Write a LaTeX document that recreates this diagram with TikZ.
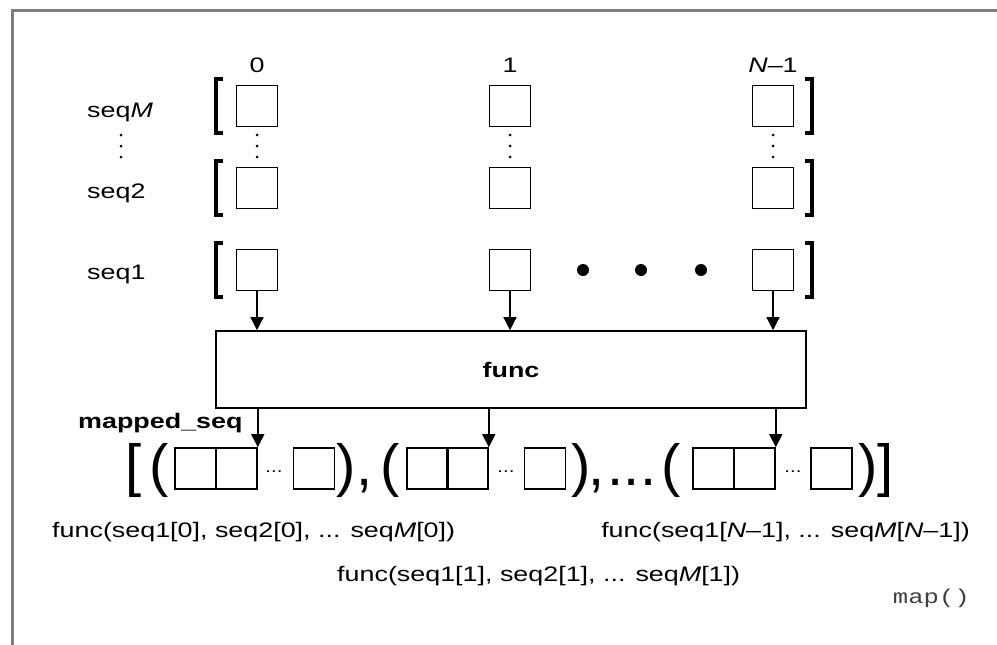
\documentclass[tikz,border=0pt]{standalone}
\usepackage{fontspec}
\setmainfont[FakeStretch=1.28]{Liberation Sans}
\setmonofont[FakeStretch=1.28]{Liberation Mono}
\newfontfamily\delimfont{Liberation Sans}
\usepackage{tikz}
\usetikzlibrary{positioning, arrows.meta}

\definecolor{framegray}{RGB}{125,125,125}

\begin{document}
\begin{tikzpicture}[
    x = 1pt, y = -1pt,
    cell/.style = {rectangle, draw, line width=1.6pt, minimum width=41pt, minimum height=41pt, inner sep=0pt},
    lbl/.style = {font=\fontsize{21}{25}\selectfont, inner sep=0pt},
    lblb/.style = {font=\fontsize{21}{25}\selectfont\bfseries, inner sep=0pt},
    delim/.style = {font=\delimfont\fontsize{58}{60}\selectfont, inner sep=0pt, anchor=base},
    brk/.style = {line width=3.5pt},
    feed/.style = {line width=1.4pt, -{Triangle[width=13pt,length=13pt]}}
]
\useasboundingbox (0,0) rectangle (997,645);
\draw[framegray, line width=3pt] (12,645) -- (12,10) -- (997,10);

% Index labels
    \node[lbl, anchor=base] (idx0) at (257,72) {0};
    \node[lbl, anchor=base] (idx1) at (510,72) {1};
    \node[lbl, anchor=base] (idxN) at (773,72) {\textit{N}--1};

% Input sequences
    \node[lbl, anchor=base west] (nameM) at (87,117) {seq\textit{M}};
    \node[lbl, anchor=base west] (name2) at (87,198) {seq2};
    \node[lbl, anchor=base west] (name1) at (87,279) {seq1};

    \node[cell] (sM0) at (257,106) {};
    \node[cell] (sM1) at (510,106) {};
    \node[cell] (sMN) at (773,106) {};
    \node[cell] (s20) at (257,188) {};
    \node[cell] (s21) at (510,188) {};
    \node[cell] (s2N) at (773,188) {};
    \node[cell] (s10) at (257,270) {};
    \node[cell] (s11) at (510,270) {};
    \node[cell] (s1N) at (773,270) {};

    \foreach \r in {106,188,270} {
        \draw[brk] (223,\r-27) -- (216,\r-27) -- (216,\r+27) -- (223,\r+27);
        \draw[brk] (805,\r-27) -- (812,\r-27) -- (812,\r+27) -- (805,\r+27);
    }
    \foreach \x in {121,257,510,773}
        \foreach \y in {135,146,157}
            \fill (\x,\y) circle[radius=1.5pt];
    \foreach \x in {583,641,701}
        \fill (\x,270) circle[radius=6pt];

% Function
    \node[draw, line width=1.6pt, minimum width=590pt, minimum height=77pt, lblb] (func) at (511,369.5) {func};

% Result
    \node[lblb, anchor=base west] (mapped) at (78,428) {mapped\_seq};

    \node[cell] (a0) at (195.5,468.5) {};
    \node[cell] (b0) at (236.5,468.5) {};
    \node[cell] (z0) at (314,468.5) {};
    \node[cell] (a1) at (427.5,468.5) {};
    \node[cell] (b1) at (467.5,468.5) {};
    \node[cell] (z1) at (545,468.5) {};
    \node[cell] (a2) at (713.5,468.5) {};
    \node[cell] (b2) at (754.5,468.5) {};
    \node[cell] (z2) at (831.5,468.5) {};

    \node[font=\fontsize{16}{18}\selectfont, inner sep=0pt, anchor=base] (gap0) at (274,472) {...};
    \node[font=\fontsize{16}{18}\selectfont, inner sep=0pt, anchor=base] (gap1) at (506,472) {...};
    \node[font=\fontsize{16}{18}\selectfont, inner sep=0pt, anchor=base] (gap2) at (793,472) {...};

    \node[delim] (lbrk) at (134,485) {[};
    \node[delim] (lpar0) at (159,485) {(};
    \node[delim] (rpar0) at (346,485) {)};
    \node[delim] (comma0) at (365,485) {,};
    \node[delim] (lpar1) at (390,485) {(};
    \node[delim] (rpar1) at (581,485) {)};
    \node[delim] (comma1) at (597,485) {,};
    \node[delim] (ellip) at (632,485) {...};
    \node[delim] (lpar2) at (671,485) {(};
    \node[delim] (rpar2) at (868,485) {)};
    \node[delim] (rbrk) at (886,485) {]};

    \node[lbl, anchor=base west] (res0) at (52,537) {func(seq1[0], seq2[0], ... seq\textit{M}[0])};
    \node[lbl, anchor=base west] (res1) at (337,581) {func(seq1[1], seq2[1], ... seq\textit{M}[1])};
    \node[lbl, anchor=base east] (resN) at (970,537) {func(seq1[\textit{N}--1], ... seq\textit{M}[\textit{N}--1])};
    \node[font=\fontsize{20}{24}\selectfont\ttfamily, inner sep=0pt, anchor=base east, text=black!75] (mapname) at (970,603) {map()};

% Arrows
    \draw[feed] (s10.south) -- (s10.south |- func.north);
    \draw[feed] (s11.south) -- (s11.south |- func.north);
    \draw[feed] (s1N.south) -- (s1N.south |- func.north);
    \draw[feed] (func.south -| b0.east) -- (b0.north east);
    \draw[feed] (func.south -| b1.east) -- (b1.north east);
    \draw[feed] (func.south -| b2.east) -- (b2.north east);
\end{tikzpicture}
\end{document}
